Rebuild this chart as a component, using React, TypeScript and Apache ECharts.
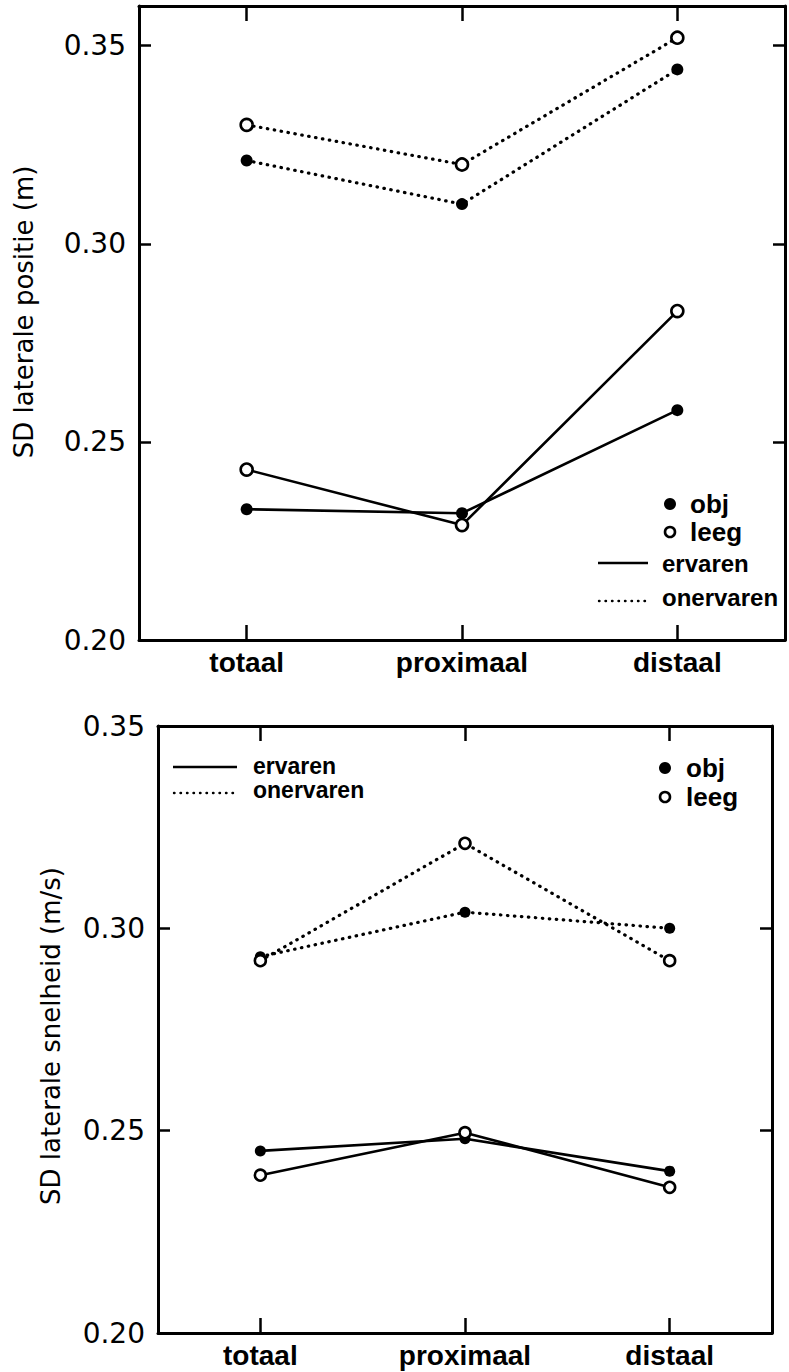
import React, { useEffect, useRef } from "react";
import * as echarts from "echarts";

const categories = ["totaal", "proximaal", "distaal"];

// Panel 1: SD laterale positie (m)
const posErvarenObj = [0.233, 0.232, 0.258];
const posErvarenLeeg = [0.243, 0.229, 0.283];
const posOnervarenObj = [0.321, 0.310, 0.344];
const posOnervarenLeeg = [0.330, 0.320, 0.352];

// Panel 2: SD laterale snelheid (m/s)
const snelErvarenObj = [0.245, 0.248, 0.240];
const snelErvarenLeeg = [0.239, 0.2495, 0.236];
const snelOnervarenObj = [0.293, 0.304, 0.300];
const snelOnervarenLeeg = [0.292, 0.321, 0.292];

const yTitleTop = "SD laterale positie (m)";
const yTitleBottom = "SD laterale snelheid (m/s)";
const legendMarkers = ["obj", "leeg"];
const legendLines = ["ervaren", "onervaren"];

const BLACK = "#000";
const SANS = "DejaVu Sans";
const BOLD = "Liberation Sans";

const tickFormatter = (v: number) =>
  Math.abs(v * 20 - Math.round(v * 20)) < 1e-6 ? v.toFixed(2) : "";

function xAxes(grid: number) {
  const common = {
    gridIndex: grid,
    type: "category",
    data: categories,
    boundaryGap: true,
    axisLine: { show: true, onZero: false, lineStyle: { color: BLACK, width: 3 } },
    axisTick: { show: true, inside: true, alignWithLabel: true, length: 15, lineStyle: { color: BLACK, width: 2.5 } },
    splitLine: { show: false },
  };
  return [
    {
      ...common,
      position: "bottom",
      axisLabel: { show: true, color: BLACK, fontFamily: BOLD, fontWeight: "bold", fontSize: 28, margin: 8 },
    },
    { ...common, position: "top", axisLabel: { show: false } },
  ];
}

function yAxes(grid: number, max: number) {
  const common = {
    gridIndex: grid,
    type: "value",
    min: 0.2,
    max,
    interval: 0.05,
    axisLine: { show: true, lineStyle: { color: BLACK, width: 3 } },
    axisTick: { show: true, inside: true, length: 12, lineStyle: { color: BLACK, width: 2.5 } },
    splitLine: { show: false },
  };
  return [
    {
      ...common,
      position: "left",
      axisLabel: { show: true, color: BLACK, fontFamily: SANS, fontSize: 28, margin: 13, formatter: tickFormatter },
    },
    { ...common, position: "right", axisLabel: { show: false } },
  ];
}

function lineSeries(name: string, data: number[], axis: number, filled: boolean, dotted: boolean, size: number) {
  return {
    name,
    type: "line",
    data,
    xAxisIndex: axis * 2,
    yAxisIndex: axis * 2,
    symbol: "circle",
    symbolSize: size,
    itemStyle: filled
      ? { color: BLACK, borderColor: BLACK, borderWidth: 0 }
      : { color: "#fff", borderColor: BLACK, borderWidth: 2.6 },
    lineStyle: dotted
      ? { color: BLACK, width: 3.2, type: [0.5, 6.5], cap: "round" }
      : { color: BLACK, width: 2.6, type: "solid" },
    z: 3,
  };
}

function legendGraphics() {
  const els: any[] = [];
  // Top panel legend
  els.push({ type: "circle", shape: { cx: 670, cy: 504, r: 6 }, style: { fill: BLACK } });
  els.push({ type: "text", x: 690, y: 504, style: { text: legendMarkers[0], fill: BLACK, font: `bold 26px ${BOLD}`, verticalAlign: "middle" } });
  els.push({ type: "circle", shape: { cx: 670, cy: 532, r: 5 }, style: { fill: "#fff", stroke: BLACK, lineWidth: 2.6 } });
  els.push({ type: "text", x: 690, y: 532, style: { text: legendMarkers[1], fill: BLACK, font: `bold 26px ${BOLD}`, verticalAlign: "middle" } });
  els.push({ type: "line", shape: { x1: 598, y1: 563, x2: 648, y2: 563 }, style: { stroke: BLACK, lineWidth: 2.6 } });
  els.push({ type: "text", x: 662, y: 563, style: { text: legendLines[0], fill: BLACK, font: `bold 24px ${BOLD}`, verticalAlign: "middle" } });
  els.push({ type: "line", shape: { x1: 599, y1: 601, x2: 650, y2: 601 }, style: { stroke: BLACK, lineWidth: 2.4, lineDash: [0.5, 6], lineCap: "round" } });
  els.push({ type: "text", x: 662, y: 597, style: { text: legendLines[1], fill: BLACK, font: `bold 24px ${BOLD}`, verticalAlign: "middle" } });
  // Bottom panel legend
  els.push({ type: "line", shape: { x1: 173, y1: 767, x2: 237, y2: 767 }, style: { stroke: BLACK, lineWidth: 2.6 } });
  els.push({ type: "text", x: 253, y: 766, style: { text: legendLines[0], fill: BLACK, font: `bold 23px ${BOLD}`, verticalAlign: "middle" } });
  els.push({ type: "line", shape: { x1: 174, y1: 793, x2: 237, y2: 793 }, style: { stroke: BLACK, lineWidth: 2.4, lineDash: [0.5, 6], lineCap: "round" } });
  els.push({ type: "text", x: 253, y: 790, style: { text: legendLines[1], fill: BLACK, font: `bold 23px ${BOLD}`, verticalAlign: "middle" } });
  els.push({ type: "circle", shape: { cx: 665, cy: 768, r: 6 }, style: { fill: BLACK } });
  els.push({ type: "text", x: 686, y: 768, style: { text: legendMarkers[0], fill: BLACK, font: `bold 26px ${BOLD}`, verticalAlign: "middle" } });
  els.push({ type: "circle", shape: { cx: 665, cy: 797, r: 5 }, style: { fill: "#fff", stroke: BLACK, lineWidth: 2.6 } });
  els.push({ type: "text", x: 686, y: 797, style: { text: legendMarkers[1], fill: BLACK, font: `bold 26px ${BOLD}`, verticalAlign: "middle" } });
  // Axis titles
  els.push({
    type: "text", x: 24, y: 312, rotation: Math.PI / 2,
    style: { text: yTitleTop, fill: BLACK, font: `26px ${SANS}`, align: "center", verticalAlign: "middle" },
  });
  els.push({
    type: "text", x: 51, y: 1036, rotation: Math.PI / 2,
    style: { text: yTitleBottom, fill: BLACK, font: `26px ${SANS}`, align: "center", verticalAlign: "middle" },
  });
  return els;
}

export default function App() {
  const ref = useRef<HTMLDivElement>(null);
  useEffect(() => {
    if (!ref.current) return;
    const chart = echarts.init(ref.current, null, { renderer: "svg" });
    chart.setOption({
      animation: false,
      backgroundColor: "#fff",
      grid: [
        { left: 139, right: 4, top: 6, height: 634 },
        { left: 158, right: 17, top: 726, height: 607 },
      ],
      xAxis: [...xAxes(0), ...xAxes(1)],
      yAxis: [...yAxes(0, 0.36), ...yAxes(1, 0.35)],
      series: [
        lineSeries("ervaren obj", posErvarenObj, 0, true, false, 12),
        lineSeries("ervaren leeg", posErvarenLeeg, 0, false, false, 12),
        lineSeries("onervaren obj", posOnervarenObj, 0, true, true, 12),
        lineSeries("onervaren leeg", posOnervarenLeeg, 0, false, true, 12),
        lineSeries("ervaren obj", snelErvarenObj, 1, true, false, 11),
        lineSeries("ervaren leeg", snelErvarenLeeg, 1, false, false, 11),
        lineSeries("onervaren obj", snelOnervarenObj, 1, true, true, 11),
        lineSeries("onervaren leeg", snelOnervarenLeeg, 1, false, true, 11),
      ],
      graphic: legendGraphics(),
    });
    return () => chart.dispose();
  }, []);
  return (
    <div
      ref={ref}
      style={{ position: "absolute", left: 0, top: 0, width: 789, height: 1372, background: "#fff" }}
    />
  );
}
